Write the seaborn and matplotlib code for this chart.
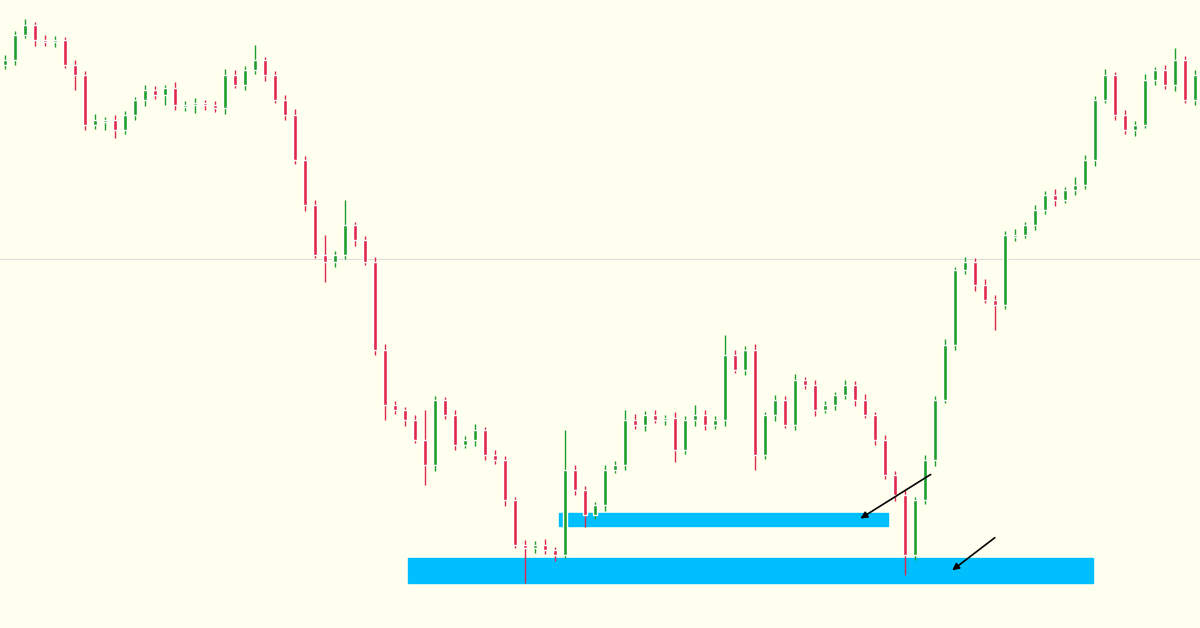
import matplotlib
matplotlib.use("Agg")
import matplotlib.pyplot as plt
import seaborn as sns
import numpy as np
import pandas as pd

# closing level, measured downward from the top of the chart (0..628)
closes = [60,35,25,40,42,40,65,75,125,120,
          120,130,115,100,90,95,88,105,105,103,
          105,108,75,85,70,60,75,100,115,160,
          205,255,262,255,225,240,262,350,405,410,
          420,440,465,400,415,445,440,430,455,460,
          500,545,548,545,550,555,470,490,515,505,
          470,465,420,425,415,420,418,450,420,415,
          425,420,355,370,350,455,415,400,425,380,
          385,410,405,395,385,400,415,440,475,495,
          555,500,460,400,345,270,262,285,300,305,
          235,235,225,210,195,200,190,185,160,100,
          75,115,130,125,80,70,85,60,100,75]
opens = [closes[0] + 5] + closes[:-1]
wick_up = [5,4,6,3,5,4,3,5,4,6,
           3,5,4,3,5,4,3,6,4,5,
           3,4,6,5,4,15,3,4,5,6,
           4,5,20,4,25,3,4,5,6,4,
           3,5,30,4,3,5,4,6,3,5,
           4,3,5,4,6,3,40,5,4,3,
           5,4,10,6,4,5,3,6,4,10,
           5,4,20,5,4,6,3,5,4,6,
           3,5,4,3,5,4,6,3,5,4,
           6,3,5,4,6,3,5,4,6,5,
           4,6,3,5,4,6,3,8,5,4,
           6,3,5,4,6,3,5,12,4,5]
wick_dn = [4,5,3,6,4,5,3,15,5,4,
           10,8,4,5,6,4,10,5,6,8,
           5,4,6,3,5,4,6,3,5,4,
           6,3,20,5,4,6,3,5,15,4,
           6,3,20,6,4,5,3,6,5,4,
           6,3,35,5,4,6,3,5,12,4,
           6,3,5,4,6,3,5,12,4,6,
           5,4,6,3,5,15,4,6,3,5,
           4,6,3,5,4,6,3,5,4,6,
           20,5,4,6,3,5,4,6,3,25,
           4,6,3,5,4,6,3,5,4,6,
           3,5,4,6,3,5,4,6,3,5]

df = pd.DataFrame({"i": np.arange(len(closes)), "open": opens, "close": closes})
df["top"] = np.minimum(df.open, df.close) - np.array(wick_up)
df["bottom"] = np.maximum(df.open, df.close) + np.array(wick_dn)
df["up"] = df.close <= df.open  # rising (screen y decreasing)

sns.set_style("white")
bg = "#FFFFF0"
fig = plt.figure(figsize=(12, 6.28), dpi=100, facecolor=bg)
ax = fig.add_axes([0, 0, 1, 1], facecolor=bg)
ax.axhline(259, color="#dddddd", lw=0.8, zorder=0)

T = ax.transAxes
ax.add_patch(plt.Rectangle((408/1200, 45/628), (1093-408)/1200, 25/628, transform=T, color="#00BFFF", zorder=1))
ax.add_patch(plt.Rectangle((559/1200, 102/628), (888-559)/1200, 13/628, transform=T, color="#00BFFF", zorder=1))

green, red = "#1E9E2A", "#E0284A"
cols = np.where(df.up, green, red)
ax.vlines(df.i, df.top, df.bottom, colors=cols, lw=1.0, zorder=2)
body = np.maximum(np.abs(df.close - df.open), 1.5)
ax.bar(df.i, body, bottom=np.minimum(df.open, df.close), width=0.45, color=cols, zorder=2)

ax.set_xlim(-0.5, len(df) - 0.5)
ax.set_ylim(628, 0)
ax.axis("off")

ax.annotate("", xy=(858/1200, 1-520/628), xytext=(933/1200, 1-473/628), xycoords=T,
            arrowprops=dict(arrowstyle="-|>", color="black", lw=1.2), zorder=4)
ax.annotate("", xy=(950/1200, 1-572/628), xytext=(997/1200, 1-536/628), xycoords=T,
            arrowprops=dict(arrowstyle="-|>", color="black", lw=1.2), zorder=4)
fig.savefig("out.png", dpi=100, facecolor=bg)
